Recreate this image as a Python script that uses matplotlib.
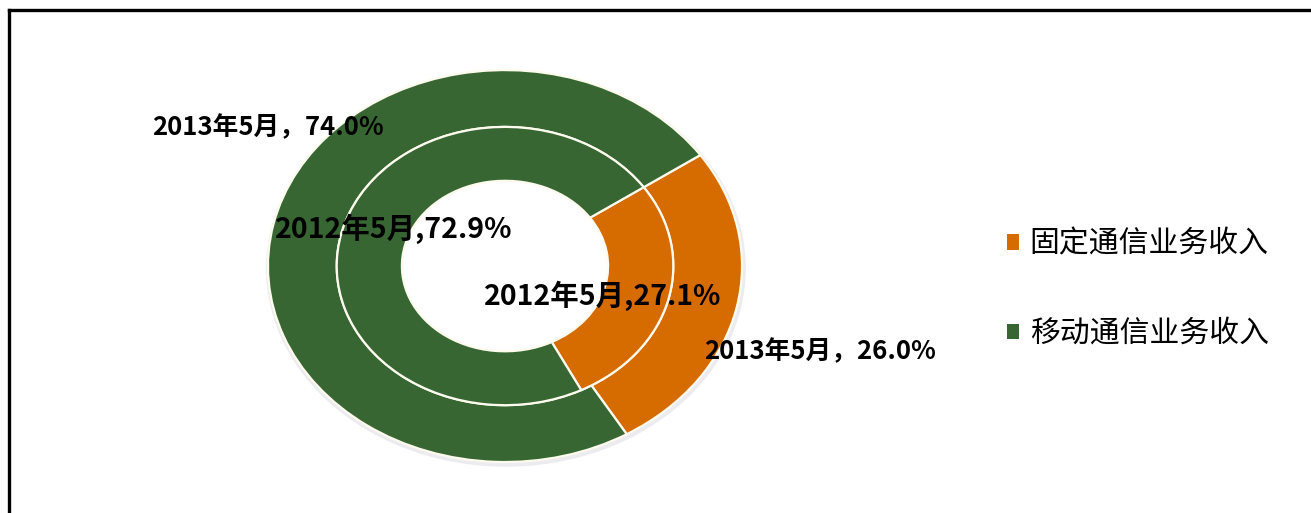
import matplotlib
matplotlib.use('Agg')
import matplotlib.pyplot as plt
from matplotlib.lines import Line2D

plt.rcParams['font.family'] = ['Noto Sans CJK SC', 'DejaVu Sans']

categories = ['固定通信业务收入', '移动通信业务收入']
share_2012 = [27.1, 72.9]
share_2013 = [26.0, 74.0]
colors = ['#d66b00', '#376632']

fig = plt.figure(figsize=(13.11, 5.13), dpi=100)
ax = fig.add_axes([0.2044, 0.0994, 0.3616, 0.764])

# faint shadow behind the outer ring, shifted slightly down
ax.pie([1], radius=1.012, colors=['#ececf0'], startangle=90, center=(0.004, -0.012),
       wedgeprops=dict(width=0.04, linewidth=0))

outer, _ = ax.pie(share_2013, radius=1.0, colors=colors, startangle=34.5,
                  counterclock=False,
                  wedgeprops=dict(width=0.29, edgecolor='#fdfbee', linewidth=1.6))
inner, _ = ax.pie(share_2012, radius=0.71, colors=colors, startangle=34.5,
                  counterclock=False,
                  wedgeprops=dict(width=0.275, edgecolor='#fdfbee', linewidth=1.6))

ax.set_aspect('auto')
ax.set_xlim(-1, 1)
ax.set_ylim(-1, 1)
ax.axis('off')

# data labels
ax.text(-0.998, 0.704, '2013年5月，{:.1f}%'.format(share_2013[1]), ha='center', va='center',
        fontsize=18.5, fontweight='bold', color='black')
ax.text(-0.47, 0.189, '2012年5月,{:.1f}%'.format(share_2012[1]), ha='center', va='center',
        fontsize=20.5, fontweight='bold', color='black')
ax.text(0.413, -0.153, '2012年5月,{:.1f}%'.format(share_2012[0]), ha='center', va='center',
        fontsize=20.5, fontweight='bold', color='black')
ax.text(1.329, -0.439, '2013年5月，{:.1f}%'.format(share_2013[0]), ha='center', va='center',
        fontsize=18.5, fontweight='bold', color='black')

leg = fig.legend(outer, categories, loc='center left', bbox_to_anchor=(0.768, 0.437),
                 frameon=False, fontsize=21.5, handlelength=0.42, handleheight=0.42,
                 handletextpad=0.35, labelspacing=1.95, borderpad=0, borderaxespad=0)
for h in leg.legend_handles:
    h.set_edgecolor('none')

# chart frame (only left and top edges visible in the crop)
fig.add_artist(Line2D([0.0065, 0.0065], [0.0, 0.981], transform=fig.transFigure,
                      color='black', linewidth=2.4))
fig.add_artist(Line2D([0.0065, 1.0], [0.981, 0.981], transform=fig.transFigure,
                      color='black', linewidth=2.4))

fig.savefig('out.png', dpi=100, facecolor='white')
plt.close(fig)
